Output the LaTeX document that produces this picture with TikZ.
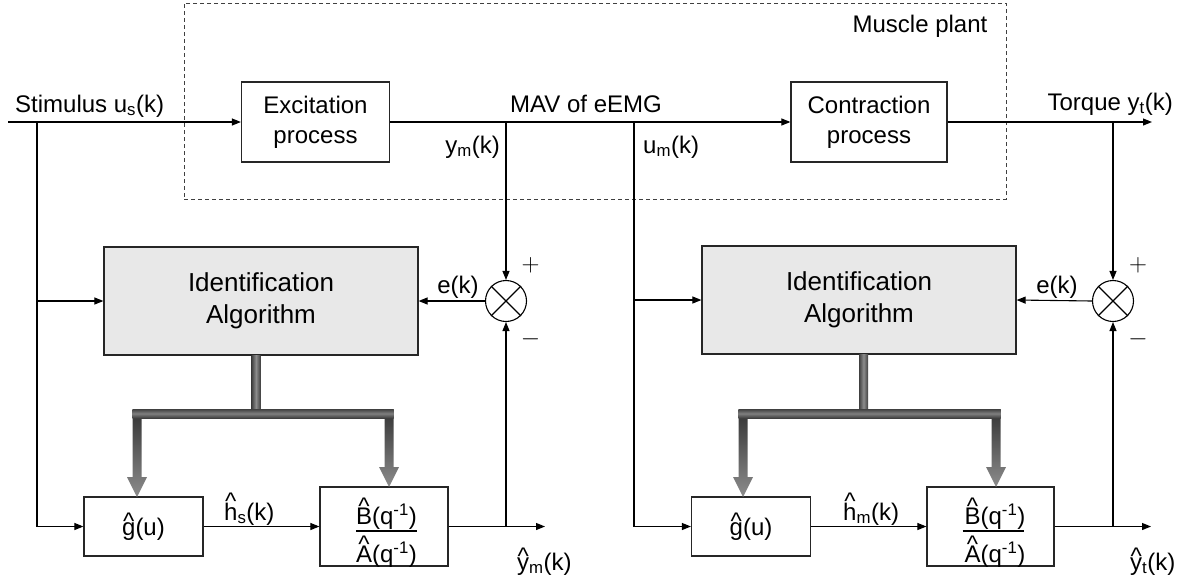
\documentclass[tikz,border=0pt]{standalone}
\usepackage{fontspec}
\setmainfont{Liberation Sans}
\usetikzlibrary{arrows.meta,calc}
\newcommand\hatacc[1]{{\setbox0=\hbox{#1}\hbox to \wd0{\hss\raisebox{\dimexpr\ht0-0.28em\relax}{\textasciicircum}\hss}\kern-\wd0\box0}}
\begin{document}
\begin{tikzpicture}[x=1pt,y=-1pt,
 every node/.style={font=\fontsize{24}{28}\selectfont},
 blk/.style={draw=black!85, line width=1.2pt, inner sep=0pt, align=center, font=\fontsize{24}{30}\selectfont},
 idblk/.style={blk, fill=black!9, minimum width=314pt, minimum height=108pt, font=\fontsize{26}{32}\selectfont},
 plantbox/.style={draw=black!75, line width=1pt, dash pattern=on 4pt off 3pt, inner sep=0pt},
 lbl/.style={inner sep=0pt},
 signlbl/.style={inner sep=0pt, font=\fontsize{28}{30}\selectfont},
 sumc/.style={draw, circle, line width=1.1pt, minimum size=41pt, inner sep=0pt},
 sig/.style={line width=1.1pt, -{Triangle[length=9pt,width=7pt]}},
 ln/.style={line width=1.1pt},
 fatarr/.style={top color=black!80, bottom color=black!45},
 fatbar/.style={top color=black!75, bottom color=black!75, middle color=black!50},
 fatstem/.style={left color=black!75, right color=black!75, middle color=black!45},
]
\useasboundingbox (0,0) rectangle (1183,579);

% muscle plant
\node[plantbox, minimum width=822pt, minimum height=196pt] (plant) at (595,101) {};
\node[lbl, anchor=base] (lmus) at (920,32) {Muscle plant};

% top blocks
\node[blk, minimum width=148pt, minimum height=80pt] (exc) at (315.5,122) {Excitation\\process};
\node[blk, minimum width=156pt, minimum height=80pt] (cont) at (869,122) {Contraction\\process};

% identification blocks
\node[idblk] (id1) at (261,301) {Identification\\Algorithm};
\node[idblk] (id2) at (859,300) {Identification\\Algorithm};

% summing junctions
\node[sumc] (s1) at (506,301) {};
\node[sumc] (s2) at (1113,301) {};
\draw[ln] (s1.north west) -- (s1.south east) (s1.north east) -- (s1.south west);
\draw[ln] (s2.north west) -- (s2.south east) (s2.north east) -- (s2.south west);

% model blocks
\node[blk, minimum width=119pt, minimum height=59pt] (g1) at (143.5,526.5) {\hatacc{g}(u)};
\node[blk, minimum width=128pt, minimum height=79pt] (b1) at (384,526.5) {};
\node[lbl] (b1n) at (386.5,514) {\hatacc{B}(q\textsuperscript{-1})};
\node[lbl] (b1d) at (386.5,552) {\hatacc{A}(q\textsuperscript{-1})};
\draw[ln] ([shift={(-28,4.5)}]b1.center) -- ([shift={(33,4.5)}]b1.center);

\node[blk, minimum width=119pt, minimum height=59pt] (g2) at (751,526.5) {\hatacc{g}(u)};
\node[blk, minimum width=127pt, minimum height=79pt] (b2) at (990.5,526.5) {};
\node[lbl] (b2n) at (995,514) {\hatacc{B}(q\textsuperscript{-1})};
\node[lbl] (b2d) at (995,552) {\hatacc{A}(q\textsuperscript{-1})};
\draw[ln] ([shift={(-28,4.5)}]b2.center) -- ([shift={(33,4.5)}]b2.center);

% coordinates
\coordinate (in) at (8,122);
\coordinate (js) at (37,122);
\coordinate (jm) at (506,122);
\coordinate (jum) at (634,122);
\coordinate (jt) at (1113,122);
\coordinate (out) at (1152,122);
\coordinate (o1) at (545,526.5);
\coordinate (o2) at (1151,526.5);
\coordinate (jo1) at (506,526.5);
\coordinate (jo2) at (1113,526.5);

% main signal path
\draw[sig] (in) -- (exc.west);
\draw[sig] (exc.east) -- (cont.west);
\draw[sig] (cont.east) -- (out);

% left identification loop
\draw[sig] (js) |- (g1.west);
\draw[sig] (js |- id1.west) -- (id1.west);
\draw[sig] (jm) -- (s1.north);
\draw[sig] (s1.west) -- (id1.east);
\draw[sig] (g1.east) -- (b1.west);
\draw[sig] (b1.east) -- (o1);
\draw[sig] (jo1) -- (s1.south);

% right identification loop
\draw[sig] (jum) |- (g2.west);
\draw[sig] (jum |- id2.west) -- (id2.west);
\draw[sig] (jt) -- (s2.north);
\draw[sig] (s2.west) -- (id2.east);
\draw[sig] (g2.east) -- (b2.west);
\draw[sig] (b2.east) -- (o2);
\draw[sig] (jo2) -- (s2.south);

% thick parameter arrows
\shade[fatstem] (251.5,355) rectangle (260.5,409);
\shade[fatstem] (859,354) rectangle (868,409);
\foreach \x/\tip in {137/497,389/487,743/497,996/487}
  \shade[fatarr] (\x-4.5,409) -- (\x+4.5,409) -- (\x+4.5,\tip-20) -- (\x+10,\tip-20) -- (\x,\tip) -- (\x-10,\tip-20) -- (\x-4.5,\tip-20) -- cycle;
\shade[fatbar] (132.5,409) rectangle (393.5,418);
\shade[fatbar] (738.5,409) rectangle (1000.5,418);

% labels
\node[lbl, anchor=base west] (lst) at (15,112) {Stimulus u\textsubscript{s}(k)};
\node[lbl, anchor=base west] (lmav) at (510,112) {MAV of eEMG};
\node[lbl, anchor=base east] (ltq) at (1173,110) {Torque y\textsubscript{t}(k)};
\node[lbl, anchor=base east] (lym) at (500,153) {y\textsubscript{m}(k)};
\node[lbl, anchor=base west] (lum) at (643,153) {u\textsubscript{m}(k)};
\node[lbl, anchor=base] (le1) at (458,293) {e(k)};
\node[lbl, anchor=base] (le2) at (1057,293) {e(k)};
\node[signlbl] (lp1) at (530.5,265) {$+$};
\node[signlbl] (lm1) at (530.5,339) {$-$};
\node[signlbl] (lp2) at (1138,265) {$+$};
\node[signlbl] (lm2) at (1138,339) {$-$};
\node[lbl, anchor=base west] (lhs) at (224,520) {\hatacc{h}\textsubscript{s}(k)};
\node[lbl, anchor=base west] (lhm) at (843,520) {\hatacc{h}\textsubscript{m}(k)};
\node[lbl, anchor=base west] (lyhm) at (517,570) {\hatacc{y}\textsubscript{m}(k)};
\node[lbl, anchor=base west] (lyht) at (1130,570) {\hatacc{y}\textsubscript{t}(k)};
\end{tikzpicture}
\end{document}
